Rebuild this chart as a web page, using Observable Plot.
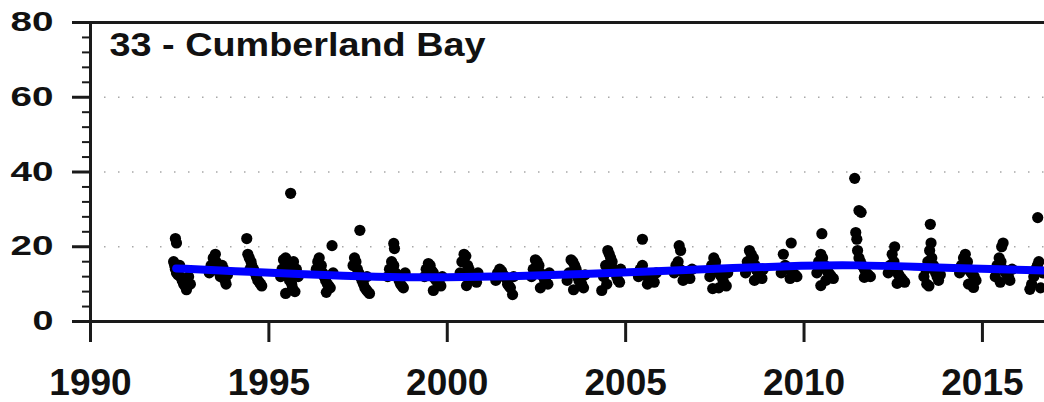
<!DOCTYPE html>
<html><head><meta charset="utf-8">
<script src="https://cdn.jsdelivr.net/npm/d3@7"></script>
<script src="https://cdn.jsdelivr.net/npm/@observablehq/plot@0.6"></script>
<style>
body{margin:0;background:#fff}
svg{font-family:"Liberation Sans",Arial,sans-serif}
</style>
</head><body><div id="chart"></div>
<script>
const title = "33 - Cumberland Bay";
const xTicks = [1990, 1995, 2000, 2005, 2010, 2015];
const yTicks = [0, 20, 40, 60, 80];
const yMinorTicks = [4, 8, 12, 16, 24, 28, 32, 36, 44, 48, 52, 56, 64, 68, 72, 76];
const gridValues = [20, 40, 60];
const xDomain = [1990, 2016.74];
const yDomain = [0, 80];

const trendYears  = [1992.4, 1994, 1996, 1998, 2000, 2002, 2004, 2006, 2008, 2010, 2011.5, 2013, 2015, 2016.8];
const trendValues = [14.2, 13.5, 12.6, 11.9, 11.8, 12.1, 12.8, 13.5, 14.3, 15.0, 15.1, 14.7, 14.1, 13.6];

// [fraction of year, value]
const s1992 = [[.38,22.2],[.41,21],[.33,16],[.36,15],[.38,14],[.41,13],[.45,12.5],[.50,15],[.52,12],[.57,11],[.61,10],[.65,9.5],[.69,8.5],[.75,12],[.80,10]];
const s1993 = [[.33,13],[.38,15],[.44,17],[.50,18],[.52,16],[.57,14.5],[.61,13],[.64,12],[.69,15],[.73,14],[.77,11],[.80,10],[.84,12.5]];
const s1994 = [[.38,22.2],[.41,18],[.45,17],[.50,16],[.52,15],[.57,14],[.61,13],[.65,12],[.69,11],[.73,10.5],[.77,10],[.80,9.5],[.47,14]];
const s1995 = [[.33,12],[.37,14],[.41,16.5],[.47,17],[.51,15],[.55,13],[.61,34.3],[.58,11],[.64,10],[.66,9],[.69,16],[.73,8],[.77,14],[.47,7.5],[.82,12]];
const s1996 = [[.33,14],[.37,16],[.41,17],[.47,15],[.51,13],[.55,12],[.59,11],[.64,10],[.68,9.5],[.72,9],[.77,20.3],[.80,13],[.61,7.8]];
const s1997 = [[.55,24.4],[.36,15],[.40,17],[.44,16],[.48,14],[.52,13],[.56,12],[.61,11],[.65,10],[.69,9],[.73,8.5],[.77,8],[.82,7.5],[.75,12]];
const s1998 = [[.50,20.9],[.52,19.5],[.33,12],[.38,14],[.44,16],[.50,15],[.55,13],[.61,12.5],[.65,11],[.69,10],[.73,9.5],[.77,9],[.82,13]];
const s1999 = [[.36,12],[.41,14],[.47,15.5],[.52,15],[.57,13.5],[.61,13],[.65,11.5],[.69,11],[.73,10.5],[.77,10],[.82,9.5],[.61,8.3],[.86,12]];
const s2000 = [[.36,13],[.41,16],[.47,18],[.52,17.5],[.57,15],[.61,14],[.65,12.5],[.69,12],[.73,11.5],[.77,11],[.82,10.5],[.54,9.6],[.86,13]];
const s2001 = [[.36,11],[.41,13],[.47,14],[.52,13.5],[.57,12.5],[.61,12],[.65,11.5],[.69,10],[.73,9.5],[.77,9],[.83,7.2],[.86,12]];
const s2002 = [[.36,12],[.41,14],[.47,16.5],[.52,16],[.57,15],[.61,13],[.65,12.5],[.69,12],[.73,11],[.77,10.5],[.82,10],[.61,9],[.86,13]];
const s2003 = [[.36,11],[.41,13],[.47,16.5],[.52,16],[.57,15],[.61,14],[.65,12],[.69,11],[.73,10.5],[.77,10],[.82,9],[.54,8.5],[.86,12.5]];
const s2004 = [[.33,8.3],[.38,12],[.44,15],[.50,19],[.54,18],[.58,17],[.62,16],[.66,14],[.70,13],[.75,12],[.79,11],[.83,10.5],[.47,10],[.86,14]];
const s2005 = [[.47,22],[.36,12],[.41,14],[.47,15],[.52,13],[.58,12.5],[.61,12],[.69,11.5],[.75,11],[.80,10.5],[.61,10],[.86,13]];
const s2006 = [[.50,20.3],[.54,19],[.36,13],[.41,15],[.47,16],[.52,14],[.58,13.5],[.63,13],[.69,12.5],[.75,12],[.80,11.5],[.61,11],[.86,14]];
const s2007 = [[.36,12],[.41,15],[.47,17],[.52,16],[.58,14],[.63,13],[.65,12.5],[.69,12],[.73,11],[.77,10],[.82,9.5],[.61,9],[.44,8.8],[.86,13]];
const s2008 = [[.36,13],[.41,16],[.47,19],[.52,18],[.58,17],[.63,15],[.65,14],[.69,13.5],[.73,13],[.77,12],[.82,11.5],[.61,11],[.86,14]];
const s2009 = [[.64,21],[.42,18],[.36,13],[.41,14],[.47,15],[.52,14.5],[.58,14],[.63,13.5],[.69,13],[.75,12.5],[.80,12],[.61,11.5]];
const s2010 = [[.50,23.5],[.36,13],[.41,16],[.47,18],[.52,17],[.58,15],[.63,14],[.65,13.5],[.69,13],[.73,12.5],[.77,12],[.82,11.5],[.61,11],[.47,9.6]];
const s2011 = [[.42,38.3],[.54,29.7],[.60,29.2],[.45,23.8],[.48,22],[.50,19],[.54,17],[.58,16],[.63,15],[.69,14],[.75,13],[.80,12.5],[.86,12],[.69,11.8]];
const s2012 = [[.54,20],[.36,13],[.41,15],[.47,18],[.52,16],[.58,14],[.63,13],[.65,12.5],[.69,12],[.73,11.5],[.77,11],[.82,10.5],[.61,10.2]];
const s2013 = [[.54,26],[.56,21],[.36,12],[.41,14],[.47,16],[.52,19],[.58,17],[.63,15],[.65,14],[.69,13],[.73,12],[.77,11],[.44,10],[.50,9.5],[.82,12.5]];
const s2014 = [[.36,13],[.41,15],[.47,17],[.52,18],[.58,16],[.63,14],[.65,13.5],[.69,13],[.73,12.5],[.77,12],[.82,11],[.61,10],[.75,9.1]];
const s2015 = [[.58,21],[.54,20],[.36,12],[.41,15],[.47,17],[.52,16],[.58,14],[.63,13.5],[.65,13],[.69,12.5],[.73,12],[.77,11],[.50,10.5],[.83,14]];
const s2016 = [[.55,27.8],[.33,8.6],[.38,10],[.44,12],[.50,14],[.54,15],[.58,16],[.63,9],[.69,13]];

const seasons = [
  [1992, s1992],[1993, s1993],[1994, s1994],[1995, s1995],[1996, s1996],[1997, s1997],[1998, s1998],
  [1999, s1999],[2000, s2000],[2001, s2001],[2002, s2002],[2003, s2003],[2004, s2004],[2005, s2005],
  [2006, s2006],[2007, s2007],[2008, s2008],[2009, s2009],[2010, s2010],[2011, s2011],[2012, s2012],
  [2013, s2013],[2014, s2014],[2015, s2015],[2016, s2016]
];
const points = seasons.flatMap(([yr, arr]) => arr.map(([f, v]) => ({t: yr + f, v})));
const trend = trendYears.map((t, i) => ({t, v: trendValues[i]}));

const axisColor = "#1a1a1a";
const chart = Plot.plot({
  width: 1044, height: 402,
  marginLeft: 90, marginRight: 0, marginTop: 22, marginBottom: 81,
  x: {domain: xDomain, axis: null, label: null},
  y: {domain: yDomain, axis: null, label: null},
  marks: [
    Plot.ruleY(gridValues, {stroke: "#a8a8a8", strokeWidth: 1.6, strokeDasharray: "1.5,12.5"}),
    Plot.dot(points, {x: "t", y: "v", r: 5.6, fill: "black", stroke: "none", clip: true}),
    Plot.line(trend, {x: "t", y: "v", stroke: "#0000ff", strokeWidth: 8, curve: "basis", clip: true}),
    Plot.axisY({ticks: yMinorTicks, tickSize: 8, tickFormat: () => "", label: null, stroke: axisColor, strokeWidth: 2}),
    Plot.axisY({ticks: yTicks, tickSize: 18, tickPadding: 19, label: null, fontSize: 27, fontWeight: "bold", fill: "#111", stroke: axisColor, strokeWidth: 3}),
    Plot.axisX({ticks: xTicks, tickSize: 21, tickPadding: 26, label: null, tickFormat: d => String(d), fontSize: 37, fontWeight: "bold", fill: "#111", stroke: axisColor, strokeWidth: 3}),
    Plot.ruleX([1990], {stroke: axisColor, strokeWidth: 3}),
    Plot.ruleY([0, 80], {stroke: axisColor, strokeWidth: 3}),
    Plot.text([title], {frameAnchor: "top-left", dx: 19, dy: 9, lineAnchor: "top", fontSize: 34, fontWeight: "bold", fill: "#111", textAnchor: "start"})
  ]
});
document.getElementById("chart").appendChild(chart);

// stretch title and y labels horizontally as in the reference
chart.querySelectorAll('g[aria-label="text"] text').forEach(t => {
  t.setAttribute("textLength", 376);
  t.setAttribute("lengthAdjust", "spacingAndGlyphs");
});
chart.querySelectorAll('g[aria-label="y-axis tick label"] text').forEach(t => {
  const n = t.textContent.length;
  if (n > 0) {
    t.setAttribute("textLength", n === 1 ? 21 : 43);
    t.setAttribute("lengthAdjust", "spacingAndGlyphs");
  }
});
</script>
</body></html>
